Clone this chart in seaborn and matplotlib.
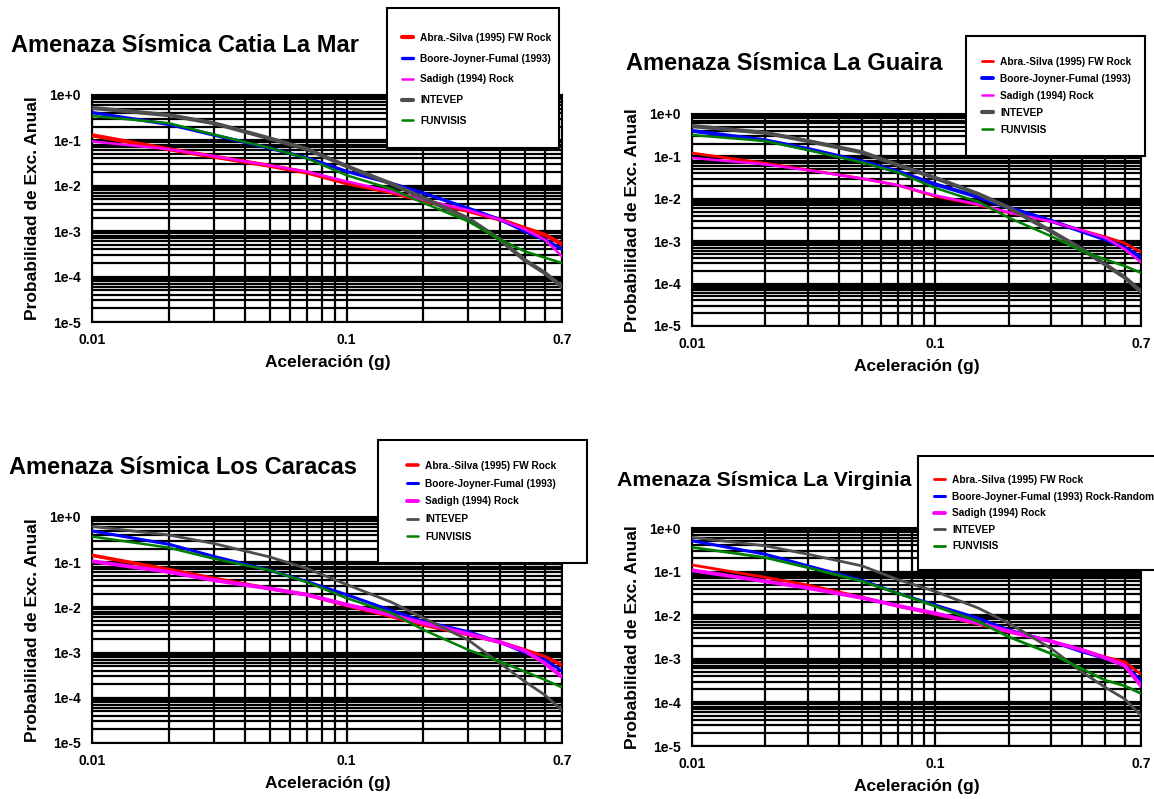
import numpy as np
import matplotlib
matplotlib.use('Agg')
import matplotlib.pyplot as plt
from matplotlib.patches import Rectangle
from matplotlib.ticker import FixedLocator, NullFormatter, LogLocator
import seaborn as sns

sns.set_style('white')
plt.rcParams['font.family'] = ['Liberation Sans', 'DejaVu Sans']
plt.rcParams['text.color'] = 'black'
plt.rcParams['axes.labelcolor'] = 'black'
plt.rcParams['xtick.color'] = 'black'
plt.rcParams['ytick.color'] = 'black'

# Aceleracion (g) sampled along every curve
accel = [0.01, 0.02, 0.03, 0.05, 0.07, 0.1, 0.15, 0.2, 0.3, 0.4, 0.5, 0.6, 0.7]

xtick_vals = [0.01, 0.1, 0.7]
xtick_labels = ['0.01', '0.1', '0.7']
xminor_vals = [0.02, 0.03, 0.04, 0.05, 0.06, 0.07, 0.08, 0.09, 0.2, 0.3, 0.4, 0.5, 0.6]
ytick_vals = [1e-5, 1e-4, 1e-3, 1e-2, 1e-1, 1e0]
ytick_labels = ['1e-5', '1e-4', '1e-3', '1e-2', '1e-1', '1e+0']

series_names = ['Abra.-Silva (1995) FW Rock', 'Boore-Joyner-Fumal (1993)',
                'Sadigh (1994) Rock', 'INTEVEP', 'FUNVISIS']
series_names_virginia = ['Abra.-Silva (1995) FW Rock', 'Boore-Joyner-Fumal (1993) Rock-Random',
                         'Sadigh (1994) Rock', 'INTEVEP', 'FUNVISIS']
colors = ['#ff0000', '#0000ff', '#ff00ff', '#4d4d4d', '#008000']

# Catia La Mar
catia_abra = [0.13, 0.064, 0.044, 0.0275, 0.0196, 0.0114, 0.0072, 0.0047, 0.0028, 0.0018, 0.00117, 0.00083, 0.00052]
catia_boore = [0.41, 0.226, 0.132, 0.067, 0.041, 0.0207, 0.0113, 0.0069, 0.0032, 0.0018, 0.001, 0.00065, 0.0004]
catia_sadigh = [0.095, 0.064, 0.045, 0.028, 0.0205, 0.0125, 0.0075, 0.0049, 0.0029, 0.0018, 0.0011, 0.00065, 0.00028]
catia_intevep = [0.52, 0.36, 0.24, 0.11, 0.064, 0.027, 0.011, 0.0054, 0.0019, 0.00065, 0.00023, 0.00012, 0.00006]
catia_funvisis = [0.345, 0.24, 0.135, 0.068, 0.04, 0.017, 0.0085, 0.0042, 0.00165, 0.00065, 0.00036, 0.00026, 0.0002]

# La Guaira
guaira_abra = [0.12, 0.069, 0.048, 0.030, 0.021, 0.0115, 0.0072, 0.0047, 0.0029, 0.0018, 0.00126, 0.0009, 0.00055]
guaira_boore = [0.40, 0.24, 0.15, 0.076, 0.044, 0.022, 0.011, 0.0062, 0.003, 0.0017, 0.0011, 0.0007, 0.00042]
guaira_sadigh = [0.092, 0.065, 0.047, 0.03, 0.021, 0.012, 0.0074, 0.0048, 0.0029, 0.0018, 0.0012, 0.00065, 0.00032]
guaira_intevep = [0.52, 0.36, 0.23, 0.125, 0.063, 0.031, 0.013, 0.0062, 0.0017, 0.00065, 0.00028, 0.00014, 0.000065]
guaira_funvisis = [0.32, 0.23, 0.14, 0.072, 0.042, 0.018, 0.0085, 0.0036, 0.0013, 0.00059, 0.00037, 0.00026, 0.00018]

# Los Caracas
caracas_abra = [0.142, 0.069, 0.044, 0.026, 0.019, 0.011, 0.0063, 0.0041, 0.0025, 0.0017, 0.00115, 0.00081, 0.00053]
caracas_boore = [0.49, 0.25, 0.135, 0.066, 0.037, 0.019, 0.0085, 0.0049, 0.0029, 0.0017, 0.001, 0.00069, 0.00039]
caracas_sadigh = [0.105, 0.061, 0.04, 0.026, 0.019, 0.0115, 0.0068, 0.0045, 0.0026, 0.0017, 0.0011, 0.00058, 0.00029]
caracas_intevep = [0.62, 0.40, 0.26, 0.13, 0.072, 0.032, 0.013, 0.0058, 0.0019, 0.00058, 0.00023, 0.000115, 0.000053]
caracas_funvisis = [0.37, 0.21, 0.12, 0.066, 0.036, 0.016, 0.0075, 0.0032, 0.00115, 0.00063, 0.00038, 0.00025, 0.00017]

# La Virginia
virginia_abra = [0.142, 0.074, 0.049, 0.026, 0.016, 0.0105, 0.0062, 0.0041, 0.0025, 0.0016, 0.0011, 0.00085, 0.00044]
virginia_boore = [0.51, 0.25, 0.135, 0.063, 0.032, 0.017, 0.0085, 0.0046, 0.0025, 0.00145, 0.00102, 0.00071, 0.00032]
virginia_sadigh = [0.107, 0.06, 0.042, 0.025, 0.0165, 0.011, 0.0066, 0.0043, 0.0025, 0.0016, 0.00105, 0.0007, 0.00024]
virginia_intevep = [0.61, 0.39, 0.25, 0.135, 0.066, 0.035, 0.0146, 0.0066, 0.0017, 0.0005, 0.00022, 0.00012, 0.00005]
virginia_funvisis = [0.36, 0.21, 0.123, 0.06, 0.032, 0.016, 0.0072, 0.0032, 0.0013, 0.00059, 0.00032, 0.00024, 0.00016]

W, H = 1154, 799
fig = plt.figure(figsize=(W / 100, H / 100), dpi=100)


def px_rect(l, t, r, b):
    return [l / W, 1 - b / H, (r - l) / W, (b - t) / H]


panels = [
    dict(title='Amenaza Sísmica Catia La Mar', title_xy=(11, 46), title_size=17,
         box=(92, 95, 562, 322), xlab_x=328, ylab_x=40,
         data=[catia_abra, catia_boore, catia_sadigh, catia_intevep, catia_funvisis],
         names=series_names, widths=[3.0, 2.4, 1.8, 3.0, 1.8],
         leg_frame=(387, 8, 559, 148), leg_xy=(402, 33), leg_space=1.06),
    dict(title='Amenaza Sísmica La Guaira', title_xy=(626, 63), title_size=17,
         box=(692, 114, 1141, 326), xlab_x=917, ylab_x=640,
         data=[guaira_abra, guaira_boore, guaira_sadigh, guaira_intevep, guaira_funvisis],
         names=series_names, widths=[2.0, 2.8, 1.8, 3.0, 1.8],
         leg_frame=(966, 36, 1145, 156), leg_xy=(982, 57), leg_space=0.68),
    dict(title='Amenaza Sísmica Los Caracas', title_xy=(9, 467), title_size=17,
         box=(92, 517, 562, 743), xlab_x=328, ylab_x=40,
         data=[caracas_abra, caracas_boore, caracas_sadigh, caracas_intevep, caracas_funvisis],
         names=series_names, widths=[2.6, 2.2, 2.8, 2.0, 1.8],
         leg_frame=(378, 440, 587, 563), leg_xy=(407, 461), leg_space=0.76),
    dict(title='Amenaza Sísmica La Virginia', title_xy=(617, 481), title_size=15.3,
         box=(692, 528, 1141, 746), xlab_x=917, ylab_x=640,
         data=[virginia_abra, virginia_boore, virginia_sadigh, virginia_intevep, virginia_funvisis],
         names=series_names_virginia, widths=[2.0, 2.2, 2.8, 2.0, 2.0],
         leg_frame=(918, 456, 1170, 570), leg_xy=(934, 475), leg_space=0.65),
]

for p in panels:
    l, t, r, b = p['box']
    ax = fig.add_axes(px_rect(l, t, r, b))
    for vals, c, w in zip(p['data'], colors, p['widths']):
        sns.lineplot(x=accel, y=vals, ax=ax, color=c, lw=w, legend=False, zorder=3)
    ax.set_xscale('log')
    ax.set_yscale('log')
    ax.set_xlim(0.01, 0.7)
    ax.set_ylim(1e-5, 1)

    ax.xaxis.set_minor_locator(FixedLocator(xminor_vals))
    ax.xaxis.set_minor_formatter(NullFormatter())
    ax.set_xticks(xtick_vals, xtick_labels)
    ax.set_yticks(ytick_vals, ytick_labels)
    ax.yaxis.set_minor_locator(LogLocator(base=10, subs=np.arange(2, 10), numticks=20))
    ax.yaxis.set_minor_formatter(NullFormatter())

    ax.grid(True, which='both', color='black', lw=1.6)
    ax.tick_params(axis='both', which='major', direction='out', length=4, width=1.5,
                   color='black', labelsize=10, pad=4)
    ax.tick_params(axis='x', which='minor', direction='out', length=4, width=1.5, color='black')
    ax.tick_params(axis='y', which='minor', length=0)
    for lab in ax.get_xticklabels() + ax.get_yticklabels():
        lab.set_fontweight('bold')
    for sp in ax.spines.values():
        sp.set_color('black')
        sp.set_linewidth(1.5)

    aw, ah = r - l, b - t
    ax.set_xlabel('Aceleración (g)', fontsize=12.5, fontweight='bold')
    ax.set_ylabel('Probabilidad de Exc. Anual', fontsize=12.5, fontweight='bold')
    ax.xaxis.set_label_coords((p['xlab_x'] - l) / aw, -33 / ah)
    ax.yaxis.set_label_coords(-(l - p['ylab_x']) / aw, 0.5)

    fig.text(p['title_xy'][0] / W, 1 - p['title_xy'][1] / H, p['title'],
             fontsize=p['title_size'], fontweight='bold', va='center', ha='left')

    fl, ft, fr, fb = p['leg_frame']
    fig.add_artist(Rectangle((fl / W, 1 - fb / H), (fr - fl) / W, (fb - ft) / H,
                             transform=fig.transFigure, facecolor='white',
                             edgecolor='black', lw=1.5, zorder=5))
    handles = ax.get_lines()[-5:]
    leg = fig.legend(handles, p['names'], loc='upper left',
                     bbox_to_anchor=(p['leg_xy'][0] / W, 1 - p['leg_xy'][1] / H),
                     bbox_transform=fig.transFigure, frameon=False,
                     prop={'size': 7.3, 'weight': 'bold'}, handlelength=1.1,
                     handletextpad=0.7, labelspacing=p['leg_space'],
                     borderpad=0, borderaxespad=0)
    leg.set_zorder(6)

fig.savefig('out.png', dpi=100)
